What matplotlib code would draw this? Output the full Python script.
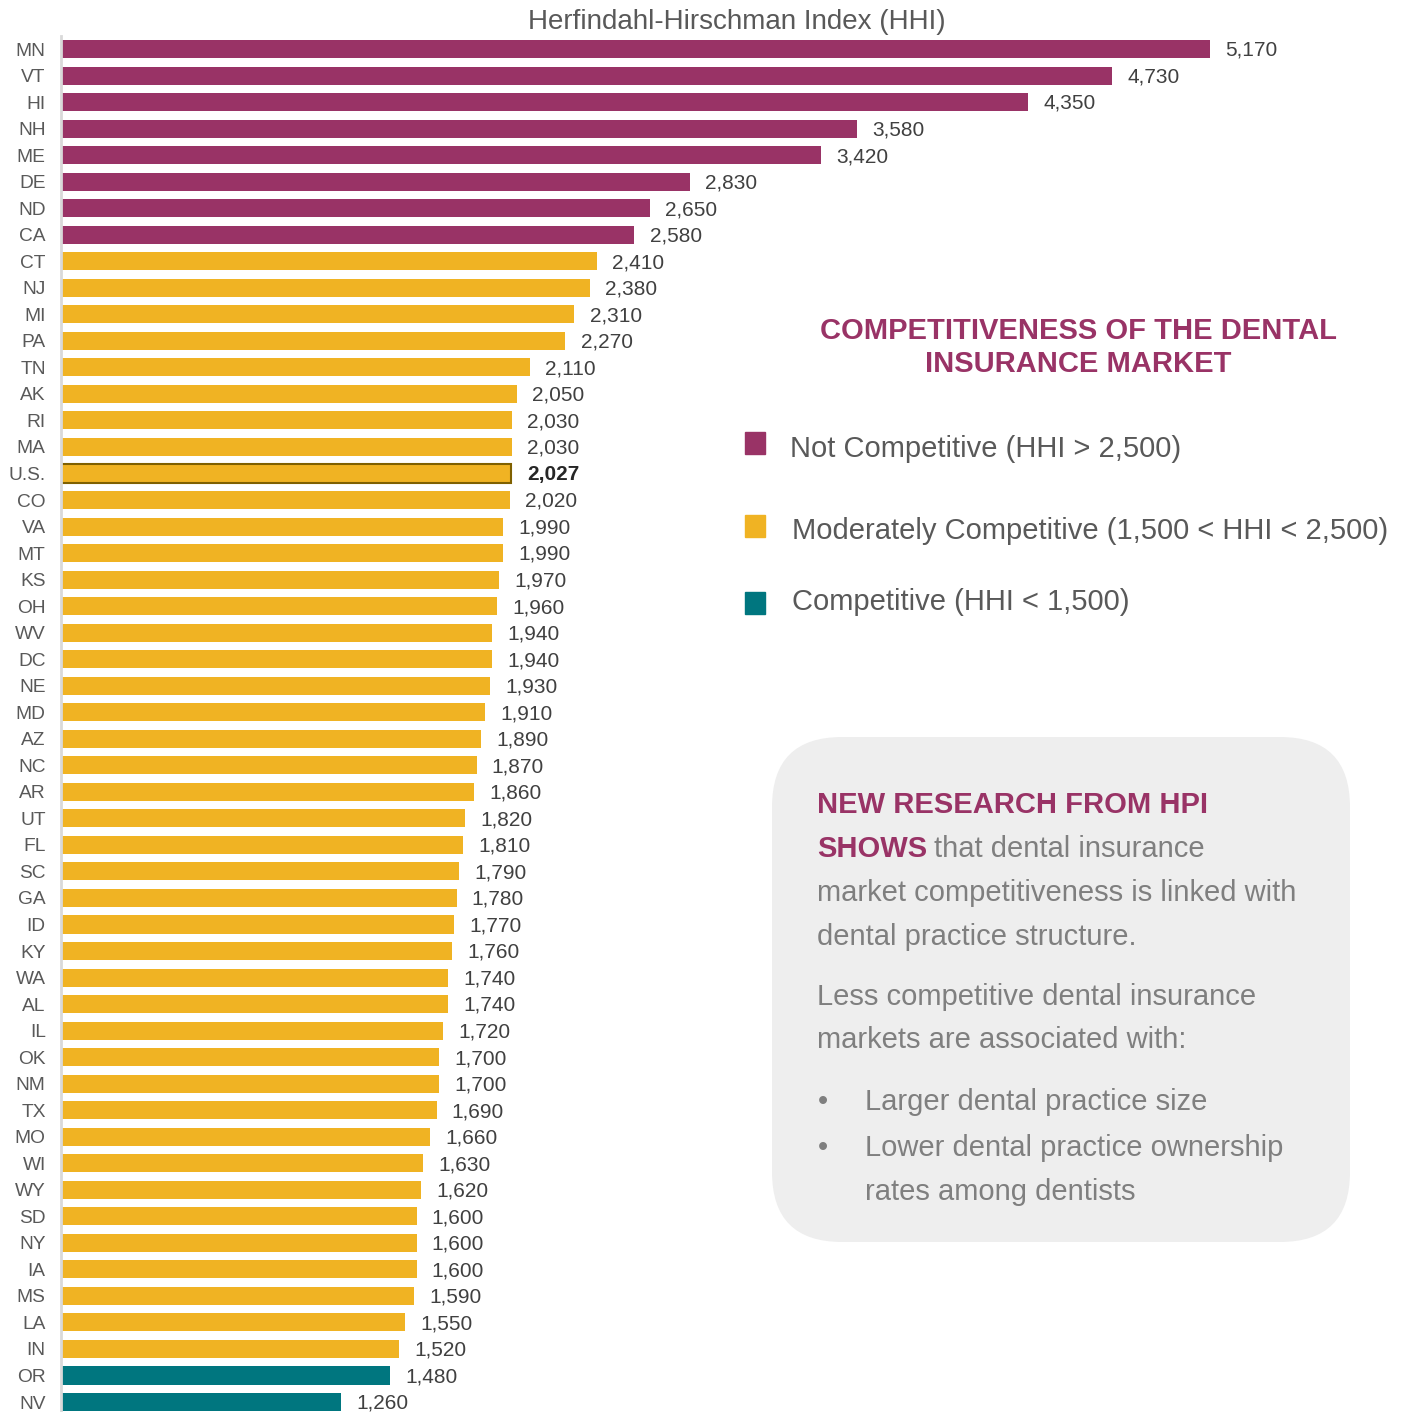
"""HHI by state: competitiveness of the dental insurance market."""

import matplotlib

matplotlib.use("Agg")
import matplotlib.pyplot as plt
from matplotlib.patches import FancyBboxPatch, Rectangle

plt.rcParams["font.family"] = ["Liberation Sans", "DejaVu Sans"]

STATES = [
    "MN", "VT", "HI", "NH", "ME", "DE", "ND", "CA", "CT", "NJ", "MI", "PA", "TN",
    "AK", "RI", "MA", "U.S.", "CO", "VA", "MT", "KS", "OH", "WV", "DC", "NE", "MD",
    "AZ", "NC", "AR", "UT", "FL", "SC", "GA", "ID", "KY", "WA", "AL", "IL", "OK",
    "NM", "TX", "MO", "WI", "WY", "SD", "NY", "IA", "MS", "LA", "IN", "OR", "NV",
]
HHI = [
    5170, 4730, 4350, 3580, 3420, 2830, 2650, 2580, 2410, 2380, 2310, 2270, 2110,
    2050, 2030, 2030, 2027, 2020, 1990, 1990, 1970, 1960, 1940, 1940, 1930, 1910,
    1890, 1870, 1860, 1820, 1810, 1790, 1780, 1770, 1760, 1740, 1740, 1720, 1700,
    1700, 1690, 1660, 1630, 1620, 1600, 1600, 1600, 1590, 1550, 1520, 1480, 1260,
]
HIGHLIGHT = "U.S."

LEGEND_LABELS = [
    "Not Competitive (HHI > 2,500)",
    "Moderately Competitive (1,500 < HHI < 2,500)",
    "Competitive (HHI < 1,500)",
]

PURPLE = "#993366"
GOLD = "#F0B323"
TEAL = "#00767F"
GRAY = "#595959"
BOX_GRAY = "#7F7F7F"

W, H = 1408, 1412
BIG = 21


def bar_color(v):
    if v > 2500:
        return PURPLE
    if v < 1500:
        return TEAL
    return GOLD


fig = plt.figure(figsize=(W / 100, H / 100), dpi=100)

# bar axes: left edge at x=61px, row 0 centred at y=49px, 26.53px per row
scale = (1210 - 61) / 5170
row_px = 26.53
ax = fig.add_axes([61 / W, 0, 1 - 61 / W, (H - 36) / H])
ypos = list(range(len(STATES)))
colors = [bar_color(v) for v in HHI]
bars = ax.barh(ypos, HHI, height=0.68, color=colors, zorder=2)
ax.set_xlim(0, (W - 61) / scale)
ax.set_ylim((H - 49) / row_px, -(49 - 36) / row_px)

for b, name, v in zip(bars, STATES, HHI):
    bold = name == HIGHLIGHT
    if bold:
        b.set_edgecolor("#7F6000")
        b.set_linewidth(1.5)
    ax.annotate(f"{v:,}", (v, b.get_y() + b.get_height() / 2), xytext=(11, -1),
                textcoords="offset points", va="center", ha="left", fontsize=15,
                color="#262626" if bold else "#404040",
                fontweight="bold" if bold else "normal")

ax.set_yticks(ypos)
ax.set_yticklabels(STATES, fontsize=13.8, color=GRAY)
ax.tick_params(axis="y", length=0, pad=11)
ax.set_xticks([])
for side in ["top", "right", "bottom"]:
    ax.spines[side].set_visible(False)
ax.spines["left"].set_color("#D9D9D9")
ax.spines["left"].set_linewidth(2)
ax.patch.set_alpha(0)

# overlay in pixel coordinates for title, legend and text box
ov = fig.add_axes([0, 0, 1, 1])
ov.set_xlim(0, W)
ov.set_ylim(H, 0)
ov.axis("off")
ov.patch.set_alpha(0)

ov.text(737, 22, "Herfindahl-Hirschman Index (HHI)", ha="center", va="center",
        fontsize=20, color=GRAY)

ov.text(1078, 331, "COMPETITIVENESS OF THE DENTAL", ha="center", va="center",
        fontsize=BIG, fontweight="bold", color=PURPLE)
ov.text(1078, 364, "INSURANCE MARKET", ha="center", va="center",
        fontsize=BIG, fontweight="bold", color=PURPLE)

legend_rows = [(PURPLE, 443, 449, 790), (GOLD, 526, 531, 792), (TEAL, 603, 602, 792)]
for label, (c, sq_y, txt_y, txt_x) in zip(LEGEND_LABELS, legend_rows):
    ov.add_patch(Rectangle((745, sq_y - 11), 20, 22, color=c))
    ov.text(txt_x, txt_y, label, ha="left", va="center", fontsize=BIG, color=GRAY)

ov.add_patch(FancyBboxPatch((772, 737), 578, 505,
                            boxstyle="round,pad=0,rounding_size=70",
                            facecolor="#EEEEEE", edgecolor="none"))
bx = 817
ov.text(bx, 805, "NEW RESEARCH FROM HPI", ha="left", va="center", fontsize=BIG,
        fontweight="bold", color=PURPLE)
shows = ov.text(bx, 849, "SHOWS", ha="left", va="center", fontsize=BIG,
                fontweight="bold", color=PURPLE)
fig.canvas.draw()
ext = shows.get_window_extent()
ov.text(ext.x1 + 7, 849, "that dental insurance", ha="left", va="center",
        fontsize=BIG, color=BOX_GRAY)
body = [
    ("market competitiveness is linked with", 893),
    ("dental practice structure.", 937),
    ("Less competitive dental insurance", 997),
    ("markets are associated with:", 1040),
]
for s, y in body:
    ov.text(bx, y, s, ha="left", va="center", fontsize=BIG, color=BOX_GRAY)
bullets = [
    ("Larger dental practice size", 1102, True),
    ("Lower dental practice ownership", 1148, True),
    ("rates among dentists", 1192, False),
]
for s, y, dot in bullets:
    if dot:
        ov.text(823, y, "\u2022", ha="center", va="center", fontsize=BIG, color=BOX_GRAY)
    ov.text(865, y, s, ha="left", va="center", fontsize=BIG, color=BOX_GRAY)

fig.savefig("out.png", dpi=100)
